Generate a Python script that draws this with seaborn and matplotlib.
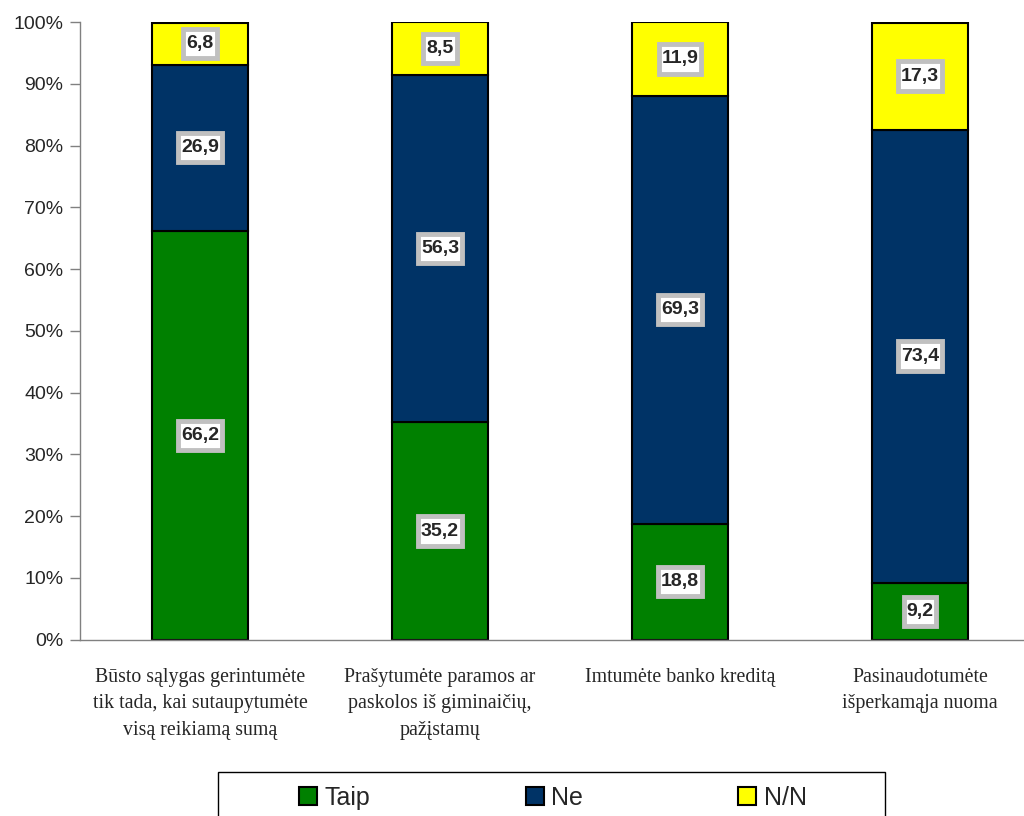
import numpy as np
import pandas as pd
import seaborn as sns
import matplotlib.pyplot as plt
from matplotlib.patches import Patch, Rectangle
from matplotlib.path import Path

# Data
categories = ["Būsto sąlygas gerintumėte\ntik tada, kai sutaupytumėte\nvisą reikiamą sumą",
              "Prašytumėte paramos ar\npaskolos iš giminaičių,\npažįstamų",
              "Imtumėte banko kreditą",
              "Pasinaudotumėte\nišperkamąja nuoma"]
taip = [66.2, 35.2, 18.8, 9.2]
ne = [26.9, 56.3, 69.3, 73.4]
nn = [6.8, 8.5, 11.9, 17.3]
series_names = ["Taip", "Ne", "N/N"]
colors = ["#008000", "#003366", "#FFFF00"]

sns.set_style("white")
plt.rcParams['font.family'] = ['Liberation Sans', 'DejaVu Sans']

df = pd.DataFrame({"cat": categories, "Taip": taip, "Ne": ne, "N/N": nn})


# label box: small side padding, taller top/bottom padding
def label_box(x0, y0, width, height, mutation_size):
    px = 0.15 * mutation_size
    py = 0.32 * mutation_size
    x0, y0 = x0 - px, y0 - py
    x1, y1 = x0 + width + 2 * px, y0 + height + 2 * py
    return Path([(x0, y0), (x1, y0), (x1, y1), (x0, y1), (x0, y0)], closed=True)


fig = plt.figure(figsize=(10.24, 8.16), dpi=100)
# the plot area runs slightly past the right edge of the picture
ax = fig.add_axes([80 / 1024, 0.216, 960 / 1024, 0.757])

bottom = np.zeros(len(categories))
for name, col in zip(series_names, colors):
    sns.barplot(data=df, x="cat", y=name, color=col, bottom=bottom, width=0.4,
                edgecolor="black", linewidth=1.5, saturation=1, ax=ax)
    vals = df[name].to_numpy()
    for i, v in enumerate(vals):
        ax.text(i, bottom[i] + v / 2, f"{v:.1f}".replace(".", ","),
                ha="center", va="center", fontsize=14, fontweight="bold",
                bbox=dict(boxstyle=label_box, facecolor="white",
                          edgecolor="#c0c0c0", linewidth=3.5))
    bottom = bottom + vals

ax.set_xlim(-0.5, 3.5)
ax.set_ylim(0, 100)
ax.set_yticks(np.arange(0, 101, 10))
ax.set_yticklabels([f"{t}%" for t in range(0, 101, 10)], fontsize=14)
ax.set_xticks(range(len(categories)))
ax.set_xticklabels(categories, fontsize=14.3, family=['Liberation Serif', 'DejaVu Serif'],
                   va="top", linespacing=1.56)
ax.set_xticks([0.5, 1.5, 2.5, 3.5], minor=True)
ax.tick_params(axis="x", which="major", length=0, pad=20)
ax.tick_params(axis="x", which="minor", length=6, width=1, color="#808080", direction="out")
ax.tick_params(axis="y", length=7, width=1, color="#808080", direction="out", left=True, pad=5)
ax.set_xlabel("")
ax.set_ylabel("")

for s in ["top", "right"]:
    ax.spines[s].set_visible(False)
for s in ["left", "bottom"]:
    ax.spines[s].set_color("#808080")
    ax.spines[s].set_linewidth(1)

# legend with a wide frame drawn by hand
handles = [Patch(facecolor=c, edgecolor="black", linewidth=1.5, label=n) for n, c in zip(series_names, colors)]
fig.legend(handles=handles, loc="center", bbox_to_anchor=(553 / 1024, 18 / 816),
           ncol=3, fontsize=18, frameon=False,
           handlelength=0.72, handleheight=0.72, handletextpad=0.3, columnspacing=6.2)
fig.patches.append(Rectangle((218 / 1024, -0.05), 667 / 1024, 0.05 + 44 / 816,
                             transform=fig.transFigure, facecolor="none",
                             edgecolor="black", linewidth=1))

fig.savefig("out.png", dpi=100)
